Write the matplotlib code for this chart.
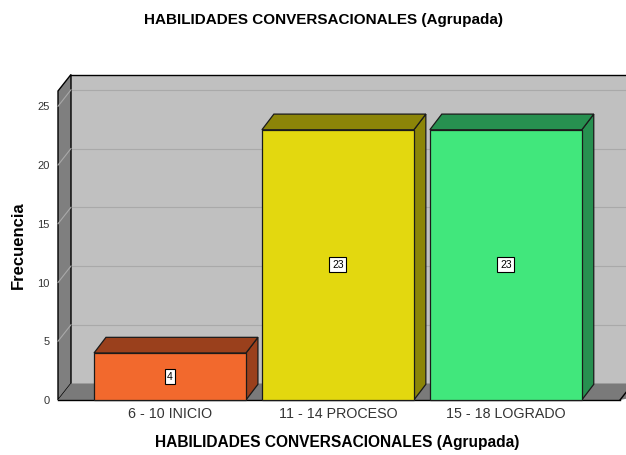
import matplotlib
matplotlib.use("Agg")
import matplotlib.pyplot as plt
from matplotlib.patches import Polygon, Rectangle

plt.rcParams['font.family'] = ['Liberation Sans', 'DejaVu Sans']

categories = ["6 - 10 INICIO", "11 - 14 PROCESO", "15 - 18 LOGRADO"]
counts = [4, 23, 23]
y_ticks = [0, 5, 10, 15, 20, 25]

front_colors = ["#f2692d", "#e3d80f", "#41e77c"]
dark_colors = ["#9a401c", "#8c8508", "#279050"]

fig = plt.figure(figsize=(6.26, 4.55), dpi=100)
ax = fig.add_axes([58 / 626, 55 / 455, 562 / 626, 309 / 455])

x0, x1 = -0.667, 2.68
ymax = 26.3
ax.set_xlim(x0, x1)
ax.set_ylim(0, ymax)

# depth offset of the 3d look, in data units
dx = 13 / 168
dy = 16.5 / 11.75
xr = x1 + 0.5  # runs past the figure edge

# back wall
ax.add_patch(Polygon([(x0 + dx, dy), (xr, dy), (xr, ymax + dy), (x0 + dx, ymax + dy)],
                     closed=True, facecolor="#c0c0c0", edgecolor="none", clip_on=False, zorder=1))
ax.plot([x0 + dx, xr], [ymax + dy, ymax + dy], color="black", lw=1, clip_on=False, zorder=2)
for t in y_ticks[1:]:
    ax.plot([x0 + dx, xr], [t + dy, t + dy], color="#a9a9a9", lw=0.8, clip_on=False, zorder=2)

# left wall
ax.add_patch(Polygon([(x0, 0), (x0 + dx, dy), (x0 + dx, ymax + dy), (x0, ymax)],
                     closed=True, facecolor="#7f7f7f", edgecolor="black", lw=1, clip_on=False, zorder=3))
for t in y_ticks[1:]:
    ax.plot([x0, x0 + dx], [t, t + dy], color="#a9a9a9", lw=0.8, clip_on=False, zorder=3)

# floor
ax.add_patch(Polygon([(x0, 0), (x0 + dx, dy), (xr, dy), (x1, 0)],
                     closed=True, facecolor="#7a7a7a", edgecolor="none", clip_on=False, zorder=3))
ax.plot([x0, x1], [0, 0], color="black", lw=1, clip_on=False, zorder=4)
ax.plot([x1, x1 + dx], [0, dy], color="black", lw=1, clip_on=False, zorder=4)

# bars
w = 0.905
bx = dx * 0.92
by = dy * 0.95
for i, (v, fc, dc) in enumerate(zip(counts, front_colors, dark_colors)):
    l, r = i - w / 2, i + w / 2
    ax.add_patch(Polygon([(r, 0), (r + bx, by), (r + bx, v + by), (r, v)],
                         closed=True, facecolor=dc, edgecolor="#1a1a1a", lw=0.9, clip_on=False, zorder=5))
    ax.add_patch(Polygon([(l, v), (l + bx, v + by), (r + bx, v + by), (r, v)],
                         closed=True, facecolor=dc, edgecolor="#1a1a1a", lw=0.9, clip_on=False, zorder=5))
    ax.add_patch(Rectangle((l, 0), w, v, facecolor=fc, edgecolor="#1a1a1a", lw=0.9,
                           clip_on=False, zorder=6))
    ax.text(i, v / 2, str(v), ha="center", va="center", fontsize=7.5, color="black", zorder=7,
            bbox=dict(boxstyle="square,pad=0.25", facecolor="white", edgecolor="black", lw=0.8))

for s in ax.spines.values():
    s.set_visible(False)
ax.set_yticks(y_ticks)
ax.set_yticklabels([str(t) for t in y_ticks], fontsize=8, color="#333333")
ax.set_xticks(range(len(categories)))
ax.set_xticklabels(categories, fontsize=10.3, color="#333333")
ax.tick_params(axis="both", length=0)
ax.tick_params(axis="y", pad=6)
ax.tick_params(axis="x", pad=5)
ax.patch.set_visible(False)

fig.text(18 / 626, 1 - 245 / 455, "Frecuencia", rotation=90,
         ha="center", va="center", fontsize=12, fontweight="bold")
fig.text(337 / 626, 1 - 443 / 455, "HABILIDADES CONVERSACIONALES (Agrupada)",
         ha="center", va="center", fontsize=11.2, fontweight="bold")
fig.text(323 / 626, 1 - 20 / 455, "HABILIDADES CONVERSACIONALES (Agrupada)",
         ha="center", va="center", fontsize=11, fontweight="bold")

fig.savefig("out.png", dpi=100)
